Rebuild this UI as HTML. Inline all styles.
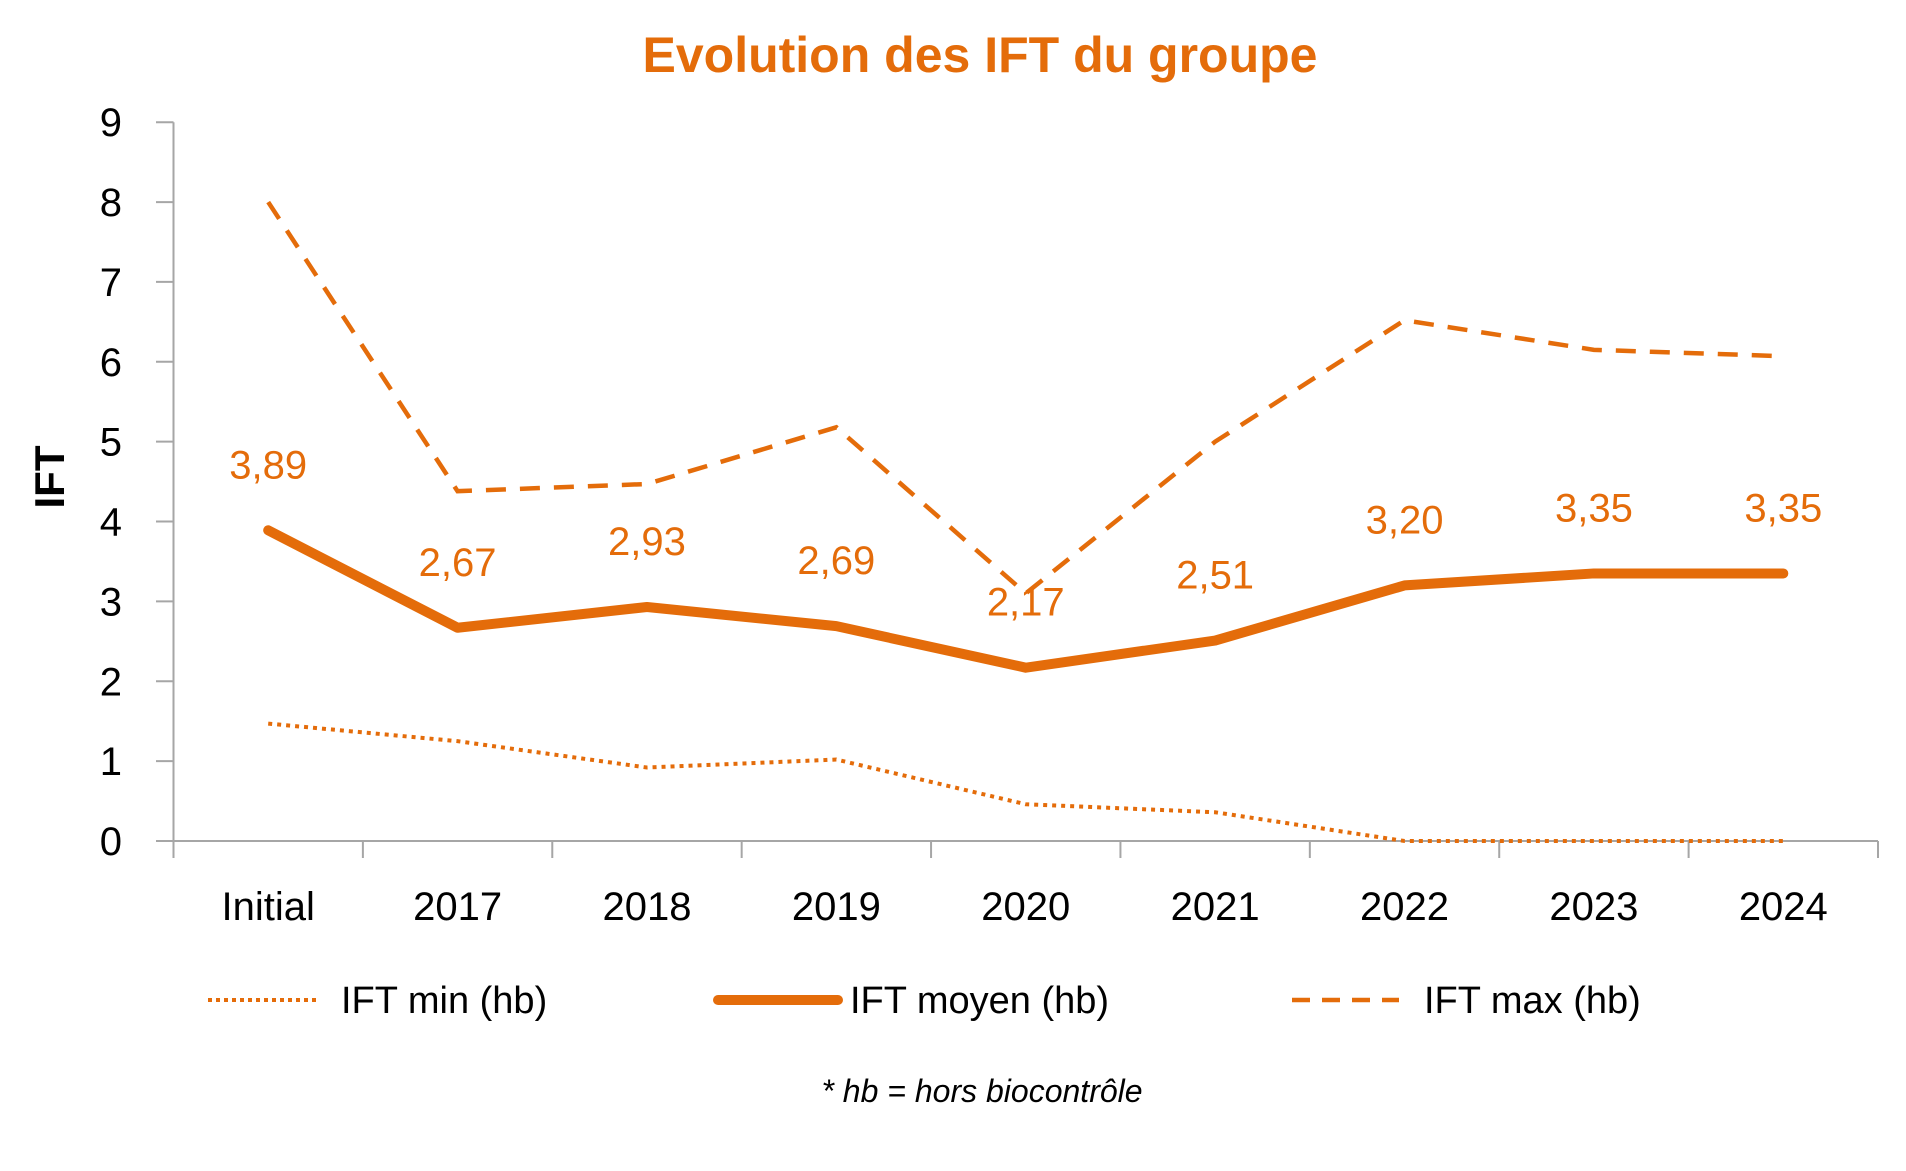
<!DOCTYPE html>
<html><head><meta charset="utf-8"><style>
html,body{margin:0;padding:0;background:#fff}
svg{display:block;font-family:"Liberation Sans",sans-serif}
</style></head><body>
<svg id="chart" width="1906" height="1171" viewBox="0 0 1906 1171" xmlns="http://www.w3.org/2000/svg">
<text x="980" y="72" text-anchor="middle" font-size="50" font-weight="bold" fill="#E46C0A">Evolution des IFT du groupe</text>
<text transform="translate(64,477) rotate(-90)" text-anchor="middle" font-size="42" font-weight="bold" fill="#000">IFT</text>
<g id="axes"></g>
<g id="series"></g>
<g>
 <g>
  <line x1="208" y1="1000" x2="320" y2="1000" stroke="#E46C0A" stroke-width="4" stroke-dasharray="4 4"/>
  <text x="341" y="1013" font-size="38" fill="#000">IFT min (hb)</text>
 </g>
 <g>
  <line x1="718" y1="1000" x2="838" y2="1000" stroke="#E46C0A" stroke-width="10" stroke-linecap="round"/>
  <text x="850" y="1013" font-size="38" fill="#000">IFT moyen (hb)</text>
 </g>
 <g>
  <line x1="1292" y1="1000" x2="1399" y2="1000" stroke="#E46C0A" stroke-width="4.5" stroke-dasharray="18 12"/>
  <text x="1424" y="1013" font-size="38" fill="#000">IFT max (hb)</text>
 </g>
</g>
<text x="982" y="1102" text-anchor="middle" font-size="32" font-style="italic" fill="#000">* hb = hors biocontrôle</text>
</svg>
<script>
const categories = ["Initial","2017","2018","2019","2020","2021","2022","2023","2024"];
const iftMin = [1.47,1.25,0.92,1.02,0.46,0.36,0.0,0.0,0.0];
const iftMoyen = [3.89,2.67,2.93,2.69,2.17,2.51,3.20,3.35,3.35];
const iftMax = [8.0,4.38,4.47,5.18,3.1,5.0,6.52,6.15,6.07];
const moyenLabels = ["3,89","2,67","2,93","2,69","2,17","2,51","3,20","3,35","3,35"];
const yTicks = [0,1,2,3,4,5,6,7,8,9];

const NS="http://www.w3.org/2000/svg";
const left=173.5, right=1878, y0=841, y9=122.2, yMax=9;
const step=(right-left)/categories.length;
function xPos(i){return left+step*(i+0.5);}
function yPos(v){return y0-(y0-y9)*v/yMax;}
function mk(tag,attrs,parent){const e=document.createElementNS(NS,tag);for(const k in attrs)e.setAttribute(k,attrs[k]);parent.appendChild(e);return e;}
const axes=document.getElementById('axes'), series=document.getElementById('series');
const ax=mk('line',{x1:left,y1:y9,x2:left,y2:y0,stroke:'#a6a6a6','stroke-width':2},axes);


const bx=mk('line',{x1:left,y1:y0,x2:right,y2:y0,stroke:'#a6a6a6','stroke-width':2},axes);


yTicks.forEach(v=>{
  const t=mk('line',{x1:156,y1:yPos(v),x2:left,y2:yPos(v),stroke:'#a6a6a6','stroke-width':2},axes);
  
  
  const l=mk('text',{x:122,y:yPos(v)+14,'text-anchor':'end','font-size':40,fill:'#000'},axes);
  
  
  l.textContent=v;
});
for(let i=0;i<=categories.length;i++){
  const t=mk('line',{x1:left+step*i,y1:y0,x2:left+step*i,y2:858,stroke:'#a6a6a6','stroke-width':2},axes);
  
  
}
categories.forEach((c,i)=>{
  const l=mk('text',{x:xPos(i),y:920,'text-anchor':'middle','font-size':40,fill:'#000'},axes);
  
  
  l.textContent=c;
});
function pts(arr){return arr.map((v,i)=>xPos(i)+','+yPos(v)).join(' ');}
const pMin=mk('polyline',{points:pts(iftMin),fill:'none',stroke:'#E46C0A','stroke-width':4,'stroke-dasharray':'4 5'},series);


const pMax=mk('polyline',{points:pts(iftMax),fill:'none',stroke:'#E46C0A','stroke-width':4.5,'stroke-dasharray':'20 14'},series);


const pMoy=mk('polyline',{points:pts(iftMoyen),fill:'none',stroke:'#E46C0A','stroke-width':10,'stroke-linecap':'round','stroke-linejoin':'round'},series);


iftMoyen.forEach((v,i)=>{
  const l=mk('text',{x:xPos(i),y:yPos(v)-52,'text-anchor':'middle','font-size':40,fill:'#E46C0A'},series);
  
  
  l.textContent=moyenLabels[i];
});
</script>
</body></html>
